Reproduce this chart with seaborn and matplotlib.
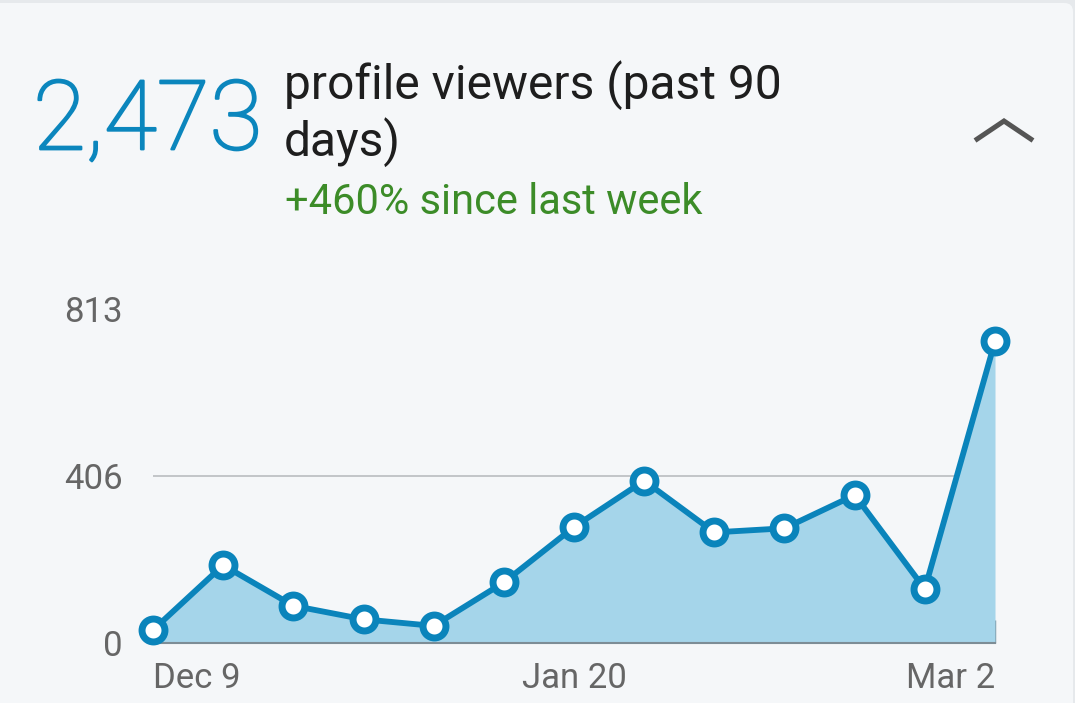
import matplotlib
matplotlib.use("Agg")
import matplotlib.pyplot as plt
import matplotlib.patheffects as pe
from matplotlib.patches import FancyBboxPatch
from matplotlib.lines import Line2D
import seaborn as sns
import pandas as pd

# ---- data ----
weeks = ["Dec 9", "Dec 16", "Dec 23", "Dec 30", "Jan 6", "Jan 13", "Jan 20",
         "Jan 27", "Feb 3", "Feb 10", "Feb 17", "Feb 24", "Mar 2"]
viewers = [31, 189, 90, 57, 41, 147, 282, 395, 269, 279, 360, 131, 735]
shown_labels = ["Dec 9", "Jan 20", "Mar 2"]
y_ticks = [0, 406, 813]
total_text = "2,473"
title_lines = ["profile viewers (past 90", "days)"]
change_text = "+460% since last week"

# ---- style ----
sns.set_theme(style="white")
plt.rcParams["font.family"] = ["Roboto", "DejaVu Sans"]

W, H = 1075, 703
card_bg = "#f5f7f9"
fig = plt.figure(figsize=(W / 100, H / 100), dpi=100)
fig.patch.set_facecolor("#e6e9ec")

card = FancyBboxPatch((-0.05, -0.05), 1073 / W + 0.05, (1 - 3 / H) + 0.05,
                      boxstyle="round,pad=0,rounding_size=0.008",
                      mutation_aspect=W / H, transform=fig.transFigure,
                      facecolor=card_bg, edgecolor="none", zorder=0)
fig.add_artist(card)

ax = fig.add_axes([153 / W, 1 - 642.7 / H, (995 - 153) / W, (642.7 - 309.3) / H])
ax.set_facecolor("none")

df = pd.DataFrame({"idx": range(len(weeks)), "week": weeks, "viewers": viewers})

line_blue = "#0a84bb"
ax.fill_between(df["idx"], 0, df["viewers"], color="#a5d5ea", linewidth=0, zorder=1)
sns.lineplot(data=df, x="idx", y="viewers", ax=ax, color=line_blue, linewidth=4.2,
             marker="o", markersize=16.5, markerfacecolor="white",
             markeredgecolor=line_blue, markeredgewidth=5.0, clip_on=False, zorder=5)

ax.axhline(y_ticks[1], color="#b4b8bb", linewidth=1.1, zorder=0.5)

ax.set_xlim(0, len(weeks) - 1)
ax.set_ylim(y_ticks[0], y_ticks[-1])

# x ticks
major_pos = [weeks.index(l) for l in shown_labels]
ax.set_xticks(major_pos)
ax.set_xticklabels(shown_labels)
ax.set_xticks(range(len(weeks)), minor=True)
ax.tick_params(axis="x", which="major", direction="in", length=16.5, width=1.0,
               color="#6f8794", labelsize=25, labelcolor="#666666", pad=14,
               bottom=True)
ax.tick_params(axis="x", which="minor", direction="in", length=8.3, width=1.0,
               color="#6f8794", bottom=True)
for lab, ha in zip(ax.get_xticklabels(), ["left", "center", "right"]):
    lab.set_horizontalalignment(ha)

# y ticks
ax.set_yticks(y_ticks)
ax.set_yticklabels([str(v) for v in y_ticks])
ax.tick_params(axis="y", length=0, labelsize=25, labelcolor="#666666", pad=22)

ax.set_xlabel("")
ax.set_ylabel("")
for s in ["top", "right", "left"]:
    ax.spines[s].set_visible(False)
ax.spines["bottom"].set_color("#7d8d96")
ax.spines["bottom"].set_linewidth(1.5)
ax.spines["bottom"].set_zorder(2)

# header texts (big number: thin weight, slightly thickened to look "light")
big_blue = "#0b86bd"
fig.text(33 / W, 1 - 149.3 / H, total_text, fontsize=69.5, color=big_blue,
         fontweight="light", ha="left", va="baseline",
         path_effects=[pe.Stroke(linewidth=1.6, foreground=big_blue), pe.Normal()])
for line, base in zip(title_lines, [98.5, 156.0]):
    fig.text(284 / W, 1 - base / H, line, fontsize=34.5, color="#1e1e1e",
             ha="left", va="baseline")
fig.text(285 / W, 1 - 214 / H, change_text, fontsize=30, color="#3c8c28",
         ha="left", va="baseline")

# collapse chevron
chev = Line2D([975 / W, 1004 / W, 1033 / W],
              [1 - 140.5 / H, 1 - 121 / H, 1 - 140.5 / H],
              transform=fig.transFigure, color="#555555", linewidth=3.6,
              solid_joinstyle="miter", solid_capstyle="butt")
fig.add_artist(chev)

fig.savefig("out.png", dpi=100, facecolor=fig.get_facecolor())
